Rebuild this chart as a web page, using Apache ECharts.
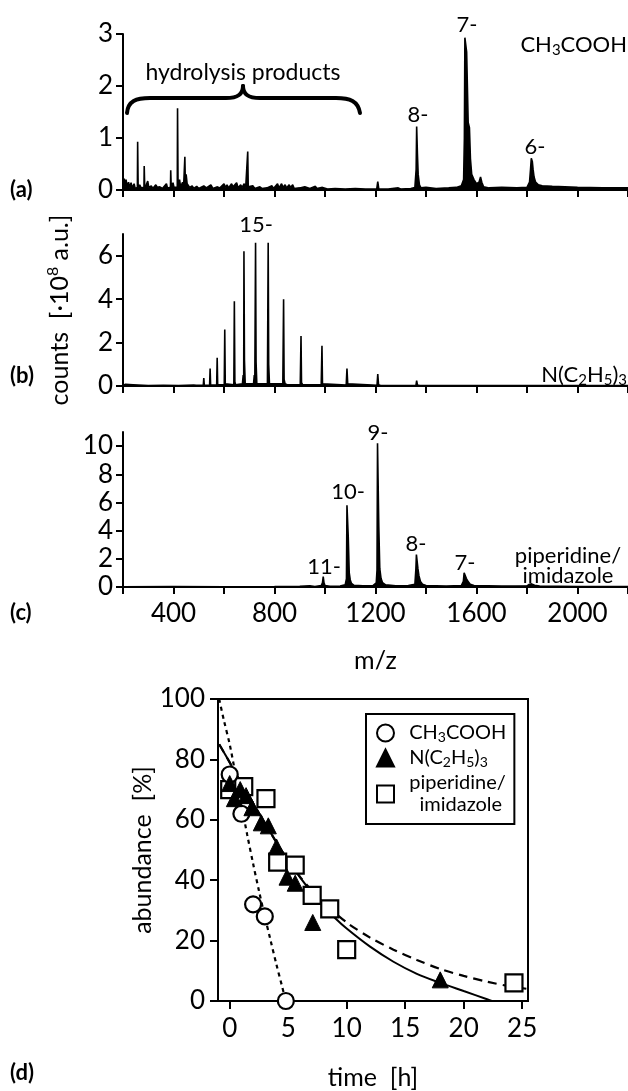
<!DOCTYPE html>
<html>
<head>
<meta charset="utf-8">
<script src="https://cdn.jsdelivr.net/npm/echarts@6.0.0/dist/echarts.min.js"></script>
<style>
  html, body { margin: 0; padding: 0; background: #fff; }
  #chart { width: 628px; height: 1091px; }
</style>
</head>
<body>
<div id="chart"></div>
<script>
// ---- spectra, [m/z, counts in 1e8 a.u.] ----
var specA = [
  [200,0.05],[205,0.22],[208,0.05],[212,0.2],[216,0.08],[222,0.15],[226,0.05],[232,0.14],[236,0.04],[244,0.12],[248,0.03],
  [257,0.05],[258,0.93],[260,0.05],[266,0.1],[272,0.04],[283,0.05],[284,0.46],[286,0.05],[292,0.1],
  [298,0.17],[302,0.05],[312,0.08],[318,0.03],[330,0.1],[336,0.05],[346,0.06],[356,0.03],
  [372,0.12],[376,0.04],[388,0.05],[389,0.38],[391,0.05],[398,0.14],[402,0.05],
  [415,0.05],[416,1.57],[418,0.1],[424,0.2],[428,0.06],[436,0.15],[440,0.06],
  [444,0.05],[445,0.64],[447,0.1],[450,0.3],[454,0.12],[460,0.15],[464,0.05],
  [474,0.08],[480,0.03],[492,0.07],[500,0.03],[520,0.08],[530,0.04],[548,0.1],[556,0.03],[572,0.06],[584,0.04],
  [600,0.12],[606,0.05],[612,0.1],[618,0.04],[630,0.12],[636,0.06],[650,0.14],[656,0.04],[666,0.1],[672,0.05],
  [680,0.12],[686,0.05],[693,0.05],[694,0.74],[696,0.06],[702,0.05],[714,0.08],[722,0.03],[742,0.06],[750,0.03],
  [770,0.04],[790,0.08],[796,0.03],[812,0.12],[818,0.04],[828,0.12],[834,0.05],[842,0.1],[848,0.04],[858,0.1],
  [864,0.05],[872,0.1],[878,0.03],[900,0.04],[920,0.06],[940,0.03],[962,0.07],[968,0.03],[990,0.05],[1010,0.02],
  [1040,0.03],[1080,0.02],[1120,0.03],[1160,0.02],[1205,0.02],[1209,0.16],[1213,0.02],[1250,0.02],[1290,0.04],
  [1300,0.02],[1340,0.03],[1356,0.05],[1361,0.4],[1363,1.22],[1366,0.7],[1369,0.3],[1374,0.1],[1380,0.04],
  [1400,0.05],[1406,0.02],[1440,0.03],[1490,0.04],[1520,0.05],[1540,0.08],[1549,0.2],[1552,1.0],[1554,2.93],
  [1559,2.93],[1561,2.65],[1565,2.65],[1567,1.3],[1572,1.2],[1576,0.6],[1581,0.3],[1590,0.2],[1600,0.12],
  [1610,0.15],[1616,0.25],[1621,0.15],[1628,0.06],[1650,0.04],[1700,0.05],[1760,0.04],[1800,0.05],[1810,0.15],
  [1814,0.4],[1817,0.61],[1821,0.55],[1824,0.4],[1828,0.25],[1834,0.15],[1845,0.1],[1860,0.08],[1900,0.07],
  [1950,0.06],[2000,0.05],[2100,0.04],[2200,0.04]
];
var specB = [
  [200,0.02],[210,0.08],[214,0.02],[225,0.07],[230,0.02],[240,0.06],[245,0.02],[300,0.02],[360,0.03],[420,0.02],
  [480,0.04],[490,0.03],[492,0.12],[494,0.03],[518,0.03],[520,0.37],[522,0.03],[543,0.03],[545,0.8],[547,0.04],
  [571,0.04],[573,1.3],[575,0.05],[601,0.05],[603,2.6],[605,0.1],[608,0.05],[639,0.05],[641,3.9],[643,0.2],
  [646,0.05],[673,0.1],[676,0.5],[678,0.1],[679,6.2],[681,1.2],[684,0.1],[717,0.1],[720,0.5],[722,0.1],
  [725,6.6],[727,1.1],[730,0.1],[772,0.1],[775,6.6],[777,1.0],[780,0.1],[833,0.1],[836,4.0],[838,0.3],
  [842,0.1],[848,0.15],[852,0.05],[902,0.05],[905,2.3],[907,0.15],[912,0.05],[985,0.05],[988,1.85],[990,0.1],
  [996,0.04],[1084,0.04],[1087,0.8],[1090,0.1],[1096,0.03],[1206,0.03],[1209,0.55],[1212,0.06],[1220,0.02],
  [1360,0.02],[1363,0.25],[1366,0.05],[1375,0.02],[1450,0.02],[1549,0.02],[1552,0.08],[1556,0.02],[1700,0.02],
  [1900,0.02],[2200,0.02]
];
var specC = [
  [200,0.02],[400,0.03],[600,0.02],[800,0.03],[900,0.05],[940,0.08],[960,0.04],[985,0.1],[990,0.3],[993,0.73],
  [996,0.3],[1000,0.1],[1020,0.05],[1060,0.07],[1080,0.15],[1085,0.6],[1087,5.8],[1090,5.8],[1092,3.6],
  [1094,3.5],[1096,1.0],[1100,0.5],[1105,0.25],[1115,0.12],[1150,0.08],[1190,0.1],[1203,0.3],[1206,1.2],
  [1208,10.2],[1211,10.2],[1213,4.3],[1215,4.2],[1217,1.3],[1222,0.6],[1228,0.3],[1240,0.15],[1280,0.08],
  [1330,0.1],[1356,0.2],[1360,1.3],[1362,2.3],[1365,2.3],[1368,1.3],[1372,0.8],[1378,0.4],[1386,0.2],
  [1400,0.1],[1480,0.06],[1540,0.1],[1548,0.4],[1551,1.0],[1555,0.9],[1560,0.6],[1566,0.4],[1575,0.2],
  [1590,0.1],[1700,0.06],[1800,0.08],[1810,0.2],[1818,0.22],[1830,0.12],[1850,0.06],[2000,0.04],[2200,0.03]
];
var mzTicks = [200, 400, 600, 800, 1000, 1200, 1400, 1600, 1800, 2000, 2200];
var mzLabels = [400, 800, 1200, 1600, 2000];
var countTicksA = [0, 1, 2, 3];
var countTicksB = [0, 2, 4, 6];
var countTicksC = [0, 2, 4, 6, 8, 10];

// ---- kinetics, [time h, abundance %] ----
var timeTicks = [0, 5, 10, 15, 20, 25];
var abundTicks = [0, 20, 40, 60, 80, 100];
var ch3Points = [[0,75],[1,62],[2,32],[3,28],[4.8,0]];
var tetPoints = [[0,72],[0.4,67],[0.9,70],[1.4,68],[1.9,64],[2.7,59],[3.3,58],[4.0,51],[4.9,41],[5.6,39],[7.1,26],[18,7]];
var pipPoints = [[0,70],[1.2,71],[3.1,67],[4.1,46],[5.6,45],[7.05,35],[8.55,30.5],[10,17],[24.3,6]];
var ch3Fit = [[-0.9,100],[-0.5,93],[0,85],[0.5,75],[1,65],[1.5,55],[2,45.5],[2.5,36.5],[3,28],[3.5,20],[4,12],[4.5,4.5],[4.8,0]];
var tetFit = [[-0.9,85],[0,79],[1,72],[2,65.5],[3,59],[4,52.5],[5,46.5],[6,41],[7,36],[8,31.5],[9,27.5],[10,24],[12,18],[14,13],[16,9],[18,6],[20,3.3],[22,0.6],[22.4,0]];
var pipFit = [[-0.9,85],[0,79],[1,72],[2,65.5],[3,59],[4,52.5],[5,46.5],[6,41.2],[7,36.6],[8,32.6],[10,26],[12,21],[14,17],[16,13.6],[18,10.6],[20,8.3],[22,6.4],[24,4.8],[25.5,4]];

var FONT = 'Lato, "DejaVu Sans", sans-serif';
var BLACK = '#000';

var chart = echarts.init(document.getElementById('chart'), null, { renderer: 'canvas' });

function plain(v) { return String(v); }

function specX(idx, withLabels) {
  return {
    type: 'value', gridIndex: idx, min: 200, max: 2200,
    axisLine: { show: true, onZero: false, lineStyle: { color: BLACK, width: 2 } },
    axisTick: { show: true, customValues: mzTicks, length: 7, lineStyle: { color: BLACK, width: 2 } },
    axisLabel: { show: withLabels, customValues: mzLabels, formatter: plain, color: BLACK, fontSize: 26, fontFamily: FONT, margin: 14 },
    splitLine: { show: false },
    name: withLabels ? 'm/z' : '', nameLocation: 'middle', nameGap: 61,
    nameTextStyle: { color: BLACK, fontSize: 25, fontFamily: FONT }
  };
}
function specY(idx, max, ticks) {
  return {
    type: 'value', gridIndex: idx, min: 0, max: max,
    axisLine: { show: true, onZero: false, lineStyle: { color: BLACK, width: 2 } },
    axisTick: { show: true, customValues: ticks, length: 7, lineStyle: { color: BLACK, width: 2 } },
    axisLabel: { customValues: ticks, formatter: plain, color: BLACK, fontSize: 26, fontFamily: FONT, margin: 10 },
    splitLine: { show: false }
  };
}
function specSeries(idx, data) {
  return {
    type: 'line', xAxisIndex: idx, yAxisIndex: idx, data: data,
    symbol: 'none', lineStyle: { color: BLACK, width: 1.6 },
    areaStyle: { color: BLACK, opacity: 1 }, silent: true
  };
}

var countsY = specY(1, 7, countTicksB);
countsY.name = 'counts  [\u00b710{sup|8} a.u.]';
countsY.nameLocation = 'middle';
countsY.nameGap = 48;
countsY.nameTextStyle = {
  color: BLACK, fontSize: 25, fontFamily: FONT, lineHeight: 30,
  rich: { sup: { fontSize: 16, lineHeight: 14, verticalAlign: 'top', fontFamily: FONT, color: BLACK } }
};

var legendText = {
  'CH3COOH': '  CH{sub|3}COOH',
  'N(C2H5)3': '  N(C{sub|2}H{sub|5}){sub|3}',
  'piperidine/imidazole': '  piperidine/\n    imidazole'
};

function txt(x, y, text, opts) {
  opts = opts || {};
  return {
    type: 'text', x: x, y: y, silent: true,
    style: {
      text: text, fill: BLACK, fontFamily: FONT, fontSize: opts.size || 22,
      fontWeight: opts.weight || 'normal', align: opts.align || 'center', verticalAlign: 'middle',
      lineHeight: opts.lh || 26,
      rich: { sub: { fontSize: 15, lineHeight: 14, verticalAlign: 'bottom', fontFamily: FONT, fill: BLACK } }
    }
  };
}
function curve(p) {
  return { type: 'bezierCurve', silent: true,
    shape: { x1: p[0], y1: p[1], cpx1: p[2], cpy1: p[3], cpx2: p[4], cpy2: p[5], x2: p[6], y2: p[7] },
    style: { stroke: BLACK, fill: null, lineWidth: 4, lineCap: 'round' } };
}
function seg(p) {
  return { type: 'line', silent: true, shape: { x1: p[0], y1: p[1], x2: p[2], y2: p[3] },
    style: { stroke: BLACK, lineWidth: 4 } };
}

var option = {
  animation: false,
  backgroundColor: '#fff',
  grid: [
    { left: 123, right: 0, top: 34, height: 156 },
    { left: 123, right: 0, top: 234, height: 152 },
    { left: 123, right: 0, top: 432, height: 155 },
    { left: 218, right: 100, top: 699, bottom: 83, show: true, borderColor: BLACK, borderWidth: 2, backgroundColor: 'transparent' }
  ],
  xAxis: [
    specX(0, false), specX(1, false), specX(2, true),
    {
      type: 'value', gridIndex: 3, min: -1, max: 25.5,
      axisLine: { show: true, onZero: false, lineStyle: { color: BLACK, width: 2 } },
      axisTick: { show: true, customValues: timeTicks, length: 8, lineStyle: { color: BLACK, width: 2 } },
      axisLabel: { customValues: timeTicks, formatter: plain, color: BLACK, fontSize: 26, fontFamily: FONT, margin: 15 },
      splitLine: { show: false },
      name: 'time  [h]', nameLocation: 'middle', nameGap: 64,
      nameTextStyle: { color: BLACK, fontSize: 25, fontFamily: FONT }
    }
  ],
  yAxis: [
    specY(0, 3, countTicksA), countsY, specY(2, 11, countTicksC),
    {
      type: 'value', gridIndex: 3, min: 0, max: 100,
      axisLine: { show: true, onZero: false, lineStyle: { color: BLACK, width: 2 } },
      axisTick: { show: true, customValues: abundTicks, length: 8, lineStyle: { color: BLACK, width: 2 } },
      axisLabel: { customValues: abundTicks, formatter: plain, color: BLACK, fontSize: 26, fontFamily: FONT, margin: 13 },
      splitLine: { show: false },
      name: 'abundance  [%]', nameLocation: 'middle', nameGap: 62,
      nameTextStyle: { color: BLACK, fontSize: 25, fontFamily: FONT }
    }
  ],
  legend: {
    left: 366, top: 714, orient: 'vertical', selectedMode: false,
    data: ['CH3COOH', 'N(C2H5)3', 'piperidine/imidazole'],
    itemWidth: 17, itemHeight: 17, itemGap: 3,
    padding: [8, 8, 8, 10],
    borderColor: BLACK, borderWidth: 2,
    formatter: function (n) { return legendText[n]; },
    textStyle: {
      color: BLACK, fontSize: 20, fontFamily: FONT, lineHeight: 22,
      rich: { sub: { fontSize: 14, lineHeight: 13, verticalAlign: 'bottom', fontFamily: FONT, color: BLACK } }
    }
  },
  series: [
    specSeries(0, specA), specSeries(1, specB), specSeries(2, specC),
    { type: 'line', xAxisIndex: 3, yAxisIndex: 3, data: ch3Fit, symbol: 'none', smooth: 0.3, silent: true,
      lineStyle: { color: BLACK, width: 2.2, type: [4, 4] }, z: 2 },
    { type: 'line', xAxisIndex: 3, yAxisIndex: 3, data: tetFit, symbol: 'none', smooth: 0.3, silent: true,
      lineStyle: { color: BLACK, width: 2 }, z: 2 },
    { type: 'line', xAxisIndex: 3, yAxisIndex: 3, data: pipFit, symbol: 'none', smooth: 0.3, silent: true,
      lineStyle: { color: BLACK, width: 2.2, type: [9, 6] }, z: 2 },
    { name: 'CH3COOH', type: 'scatter', xAxisIndex: 3, yAxisIndex: 3, data: ch3Points, symbol: 'circle', symbolSize: 16,
      itemStyle: { color: '#fff', borderColor: BLACK, borderWidth: 2.2, opacity: 1 }, z: 4 },
    { name: 'N(C2H5)3', type: 'scatter', xAxisIndex: 3, yAxisIndex: 3, data: tetPoints, symbol: 'triangle', symbolSize: 16,
      itemStyle: { color: BLACK, borderColor: BLACK, borderWidth: 1, opacity: 1 }, z: 5 },
    { name: 'piperidine/imidazole', type: 'scatter', xAxisIndex: 3, yAxisIndex: 3, data: pipPoints, symbol: 'rect', symbolSize: 17,
      itemStyle: { color: '#fff', borderColor: BLACK, borderWidth: 2.2, opacity: 1 }, z: 3 }
  ],
  graphic: [
    txt(10, 190, '(a)', { size: 22, weight: 'bold', align: 'left' }),
    txt(10, 376, '(b)', { size: 22, weight: 'bold', align: 'left' }),
    txt(10, 613, '(c)', { size: 22, weight: 'bold', align: 'left' }),
    txt(10, 1073, '(d)', { size: 22, weight: 'bold', align: 'left' }),
    txt(243, 73, 'hydrolysis products', { size: 23 }),
    curve([127, 113, 128, 101, 136, 98, 150, 98]),
    seg([150, 98, 226, 98]),
    curve([226, 98, 238, 98, 243, 94, 243, 86]),
    curve([243, 86, 243, 94, 248, 98, 260, 98]),
    seg([260, 98, 336, 98]),
    curve([336, 98, 350, 98, 358, 101, 360, 113]),
    txt(418, 115, '8-'),
    txt(467, 25, '7-'),
    txt(535, 147, '6-'),
    txt(627, 45, 'CH{sub|3}COOH', { align: 'right' }),
    txt(256, 225, '15-'),
    txt(627, 375, 'N(C{sub|2}H{sub|5}){sub|3}', { align: 'right' }),
    txt(324, 567, '11-'),
    txt(348, 492, '10-'),
    txt(378, 433, '9-'),
    txt(416, 544, '8-'),
    txt(465, 563, '7-'),
    txt(568, 566, 'piperidine/\nimidazole', { lh: 20 })
  ]
};

chart.setOption(option);
</script>
</body>
</html>
